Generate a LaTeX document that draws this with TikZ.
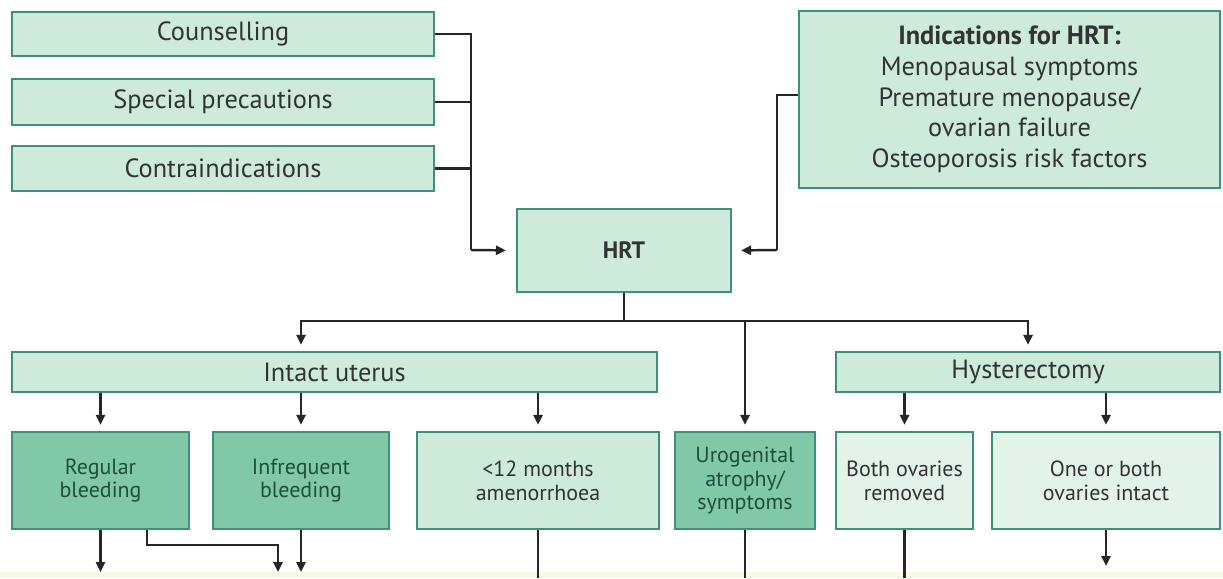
\documentclass[tikz,border=0pt]{standalone}
\usepackage{fontspec}
\setmainfont{PT Sans}
\usetikzlibrary{arrows.meta}
\definecolor{boxline}{HTML}{3E9178}
\definecolor{boxfill}{HTML}{CDEADB}
\definecolor{darkfill}{HTML}{80C8A8}
\definecolor{palefill}{HTML}{E3F3EA}
\definecolor{txt}{HTML}{333333}
\definecolor{darktxt}{HTML}{1D4F3C}
\definecolor{strip}{HTML}{FBF8E1}
\newcommand\pxu{0.02cm}
\newcommand\bigtxt{\fontsize{15}{17.5}\selectfont}
\newcommand\smalltxt{\fontsize{12.5}{13.5}\selectfont}
\tikzset{
  panel/.style args={#1/#2}{draw=boxline, line width=1.2pt, fill=boxfill, text=txt,
    minimum width=#1*\pxu, minimum height=#2*\pxu, inner sep=0pt, align=center, font=\bigtxt},
  lowpanel/.style={font=\smalltxt},
  darkpanel/.style={lowpanel, fill=darkfill, text=darktxt},
  link/.style={line width=1.4pt, draw=black!85},
  arr/.style={link, -{Triangle[length=0.2cm,width=0.18cm]}, shorten >=0.12cm}
}
\begin{document}
\begin{tikzpicture}[x=0.02cm,y=-0.02cm]
\useasboundingbox (0,0) rectangle (1223,578);
\fill[strip] (0,572) rectangle (1223,578);
\coordinate (cut) at (0,578);

\node[panel=422/44] (couns) at (223,34) {Counselling};
\node[panel=422/46] (spec) at (223,102) {Special precautions};
\node[panel=422/45] (contra) at (223,168.5) {Contraindications};
\node[panel=421/177] (indic) at (1009.5,99.5) {\textbf{Indications for HRT:}\\Menopausal symptoms\\Premature menopause/\\ovarian failure\\Osteoporosis risk factors};

\node[panel=214/83, font=\fontsize{13.5}{15}\selectfont\bfseries] (hrt) at (624,250.5) {HRT};

\node[panel=645/40] (intact) at (334.5,372) {Intact uterus};
\node[panel=384/40] (hyst) at (1028,372) {Hysterectomy};

\node[panel=177/97, darkpanel] (regbl) at (100.5,480.5) {Regular\\bleeding};
\node[panel=176/97, darkpanel] (infbl) at (301,480.5) {Infrequent\\bleeding};
\node[panel=242/97, lowpanel] (amen) at (538,480.5) {<12 months\\amenorrhoea};
\node[panel=140/97, darkpanel] (urog) at (745,480.5) {Urogenital\\atrophy/\\symptoms};
\node[panel=137/97, lowpanel, fill=palefill] (bothov) at (904.5,480.5) {Both ovaries\\removed};
\node[panel=228/97, lowpanel, fill=palefill] (oneov) at (1106,480.5) {One or both\\ovaries intact};

\coordinate (lj) at (471,250);
\coordinate (rj) at (777,250);
\draw[link] (couns.east) -| (lj);
\draw[link] (spec.east) -- (spec.east -| lj);
\draw[link] (contra.east) -- (contra.east -| lj);
\draw[arr, shorten >=0.2cm] (lj) -- (hrt.west);
\draw[link] ([yshift=0.09cm]indic.west) -| (rj);
\draw[arr, shorten >=0.18cm] (rj) -- (hrt.east);

\coordinate (br) at (624,321);
\draw[link] (hrt.south) -- (br);
\draw[arr] (br) -| (infbl |- intact.north);
\draw[arr] (br) -| (hyst.north);
\draw[arr] (br -| urog) -- (urog.north);

\foreach \n in {regbl,infbl,amen}
  \draw[arr] (intact.south -| \n) -- (\n.north);
\foreach \n in {bothov,oneov}
  \draw[arr] (hyst.south -| \n) -- (\n.north);

\coordinate (rbk) at (147,545);
\coordinate (rbk2) at (278,545);
\draw[arr] (regbl.south) -- (regbl.south |- cut);
\draw[arr] (regbl.south -| rbk) -- (rbk) -- (rbk2) -- (rbk2 |- cut);
\draw[arr] (infbl.south) -- (infbl.south |- cut);
\foreach \n in {amen,urog,bothov}
  \draw[link] (\n.south) -- (\n.south |- cut);
\draw[arr, shorten >=0.24cm] (oneov.south) -- (oneov.south |- cut);
\end{tikzpicture}
\end{document}
